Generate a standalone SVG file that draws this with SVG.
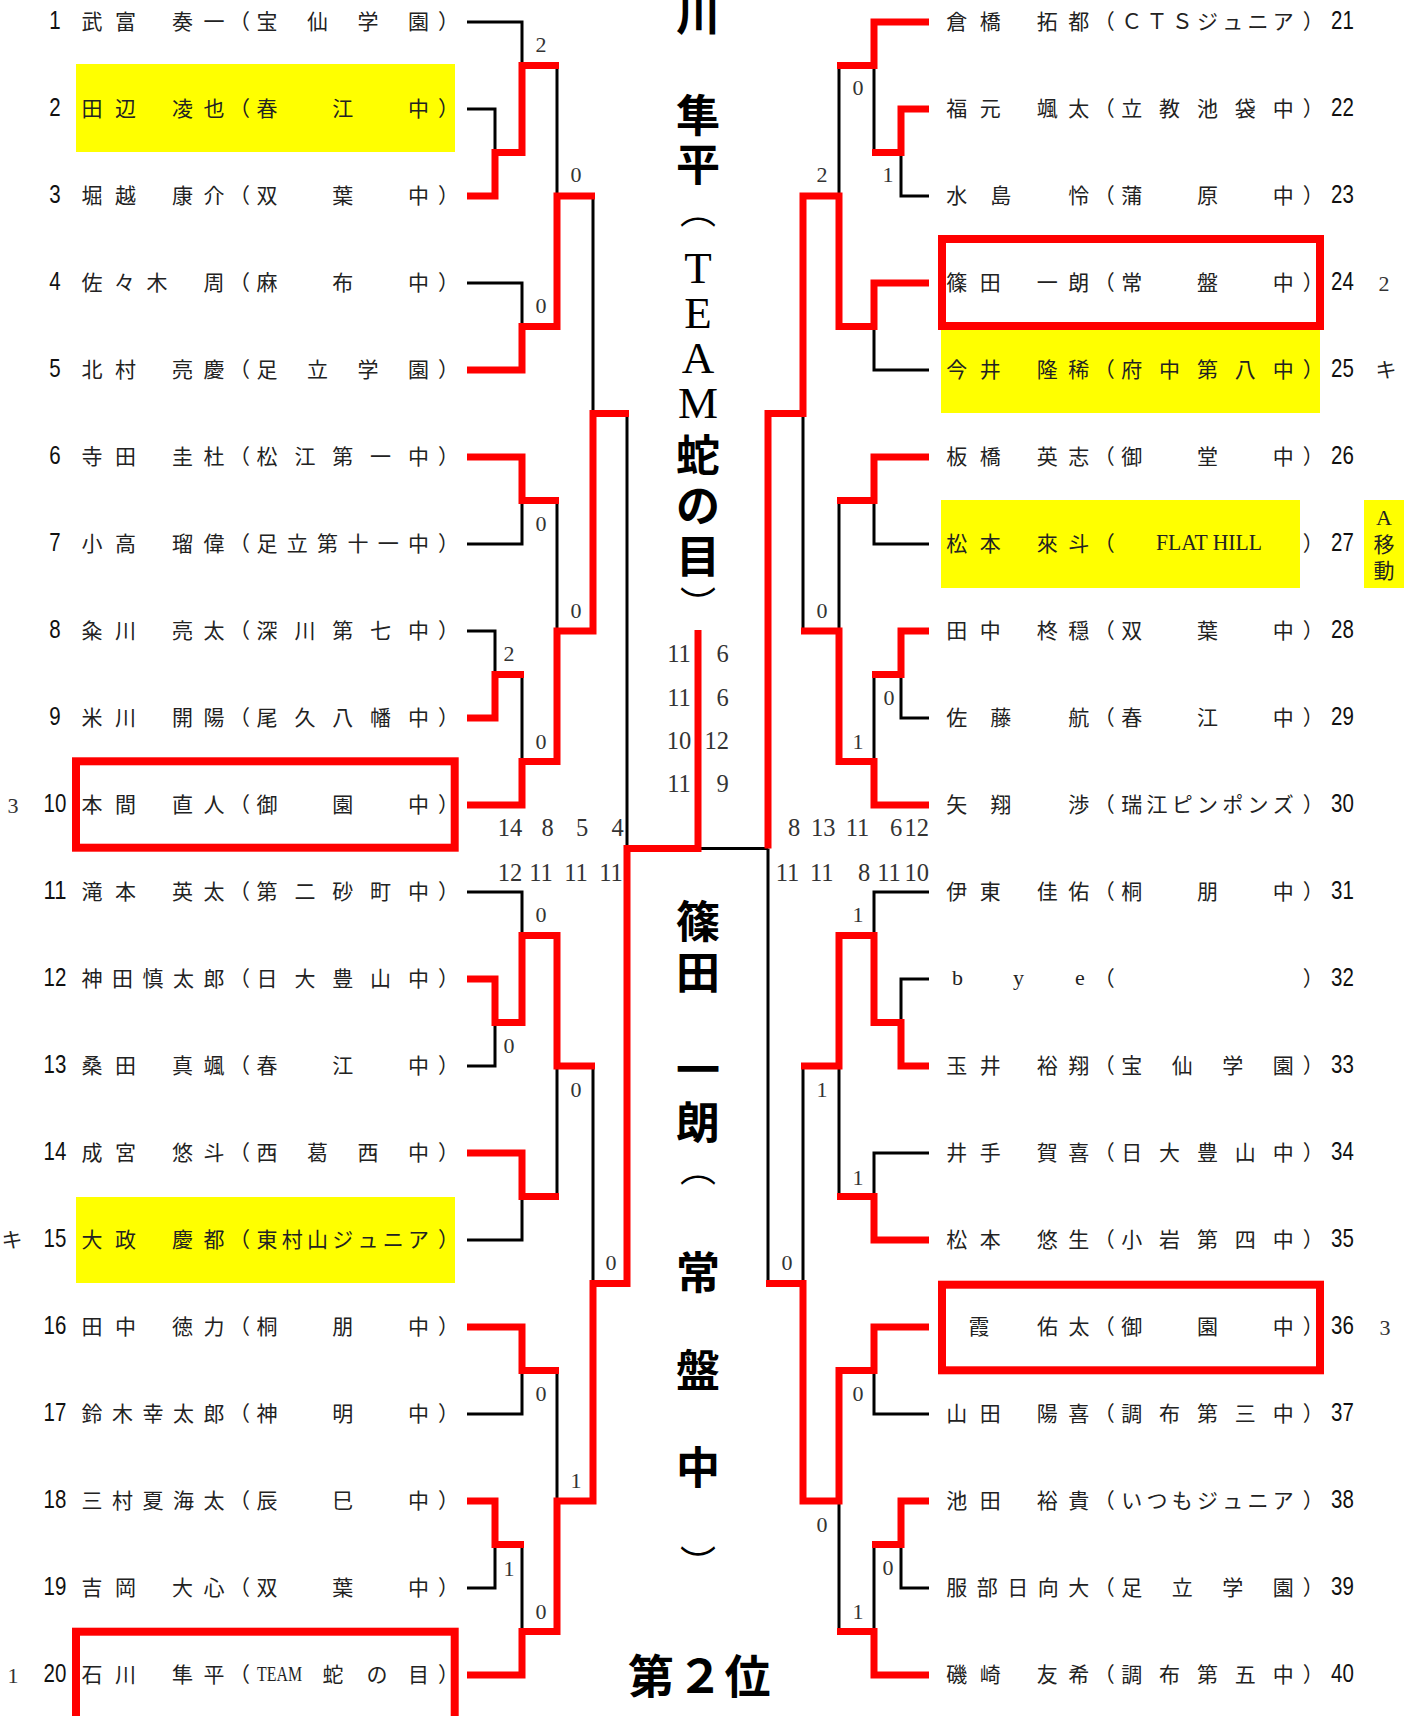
<svg xmlns="http://www.w3.org/2000/svg" width="1413" height="1716" viewBox="0 0 1413 1716">
<style>
.hl{fill:#ffff00}
.box{fill:none;stroke:#ff0000;stroke-width:8}
.bk{fill:none;stroke:#000;stroke-width:3;stroke-linejoin:miter}
.rd{fill:none;stroke:#ff0000;stroke-width:7;stroke-linejoin:miter;stroke-linecap:butt}
.nm{font-family:"Noto Sans CJK JP",sans-serif;font-size:21px;fill:#222;text-anchor:middle;dominant-baseline:central;transform:translateY(-2.5px)}
.no{font-family:"Liberation Sans Narrow","Liberation Sans",sans-serif;font-size:25px;fill:#111;text-anchor:middle;dominant-baseline:central;transform:translateY(-2.5px)}
.sc{font-family:"Liberation Serif",serif;font-size:22px;fill:#333;text-anchor:middle;dominant-baseline:central}
.gs{font-family:"Liberation Serif",serif;font-size:24.5px;fill:#333;text-anchor:middle;dominant-baseline:central}
.lat{font-family:"Liberation Serif",serif;font-size:22px;fill:#222;text-anchor:middle;dominant-baseline:central;transform:translateY(-2px)}
.big{font-family:"Noto Sans CJK JP",sans-serif;font-size:44px;font-weight:bold;fill:#000;text-anchor:middle;dominant-baseline:central;transform:translateY(-2px)}
.par{font-family:"Noto Sans CJK JP",sans-serif;font-size:36px;font-weight:normal;fill:#000;text-anchor:middle;dominant-baseline:central}
.bigl{font-family:"Liberation Serif",serif;font-size:45px;fill:#000;text-anchor:middle;dominant-baseline:central}
</style>
<rect width="1413" height="1716" fill="#fff"/>

<g id="highlights">
<rect class="hl" x="76" y="64" width="379" height="88"/>
<rect class="hl" x="76" y="1197" width="379" height="86"/>
<rect class="hl" x="941" y="330" width="379" height="83"/>
<rect class="hl" x="941" y="500" width="359" height="88"/>
<rect class="hl" x="1364" y="500" width="40" height="88"/>
</g>

<g id="connectors">
<path class="bk" d="M467,22 H522 V65.5 M467,109 H495 V152.5 M557,65.5 V196 M467,283 H522 V326.5 M593,196 V413.5 M467,544 H522 V500.5 M557,500.5 V631 M467,631 H495 V674.5 M522,674.5 V761.5 M627,413.5 V848.5 M467,892 H522 V935.5 M467,1066 H495 V1022.5 M467,1240 H522 V1196.5 M557,1066 V1196.5 M593,1066 V1283.5 M467,1414 H522 V1370.5 M557,1370.5 V1501 M467,1588 H495 V1544.5 M522,1544.5 V1631.5"/>
<path class="bk" d="M698,848.5 H768 M768,848.5 V1283.5"/>
<path class="bk" d="M929,196 H901 V152.5 M874,65.5 V152.5 M839,65.5 V196 M929,370 H874 V326.5 M803,413.5 V631 M929,544 H874 V500.5 M839,500.5 V631 M929,718 H901 V674.5 M874,674.5 V761.5 M929,892 H874 V935.5 M929,979 H901 V1022.5 M929,1153 H874 V1196.5 M839,1066 V1196.5 M803,1066 V1283.5 M929,1414 H874 V1370.5 M839,1501 V1631.5 M929,1588 H901 V1544.5 M874,1544.5 V1631.5"/>
<path class="rd" d="M467,196 H495 V152.5 H522 V65.5 H559"/>
<path class="rd" d="M467,370 H522 V326.5 H557 V196 H595"/>
<path class="rd" d="M467,457 H522 V500.5 H559"/>
<path class="rd" d="M467,718 H495 V674.5 H524"/>
<path class="rd" d="M467,805 H522 V761.5 H557 V631 H593 V413.5 H629"/>
<path class="rd" d="M467,979 H495 V1022.5 H522 V935.5 H557 V1066 H595"/>
<path class="rd" d="M467,1153 H522 V1196.5 H559"/>
<path class="rd" d="M467,1327 H522 V1370.5 H559"/>
<path class="rd" d="M467,1501 H495 V1544.5 H524"/>
<path class="rd" d="M467,1675 H522 V1631.5 H557 V1501 H593 V1283.5 H627 V848.5 H698 V630"/>
<path class="rd" d="M929,22 H874 V65.5 H837"/>
<path class="rd" d="M929,109 H901 V152.5 H872"/>
<path class="rd" d="M929,283 H874 V326.5 H839 V196 H803 V413.5 H768 V848.5"/>
<path class="rd" d="M929,457 H874 V500.5 H837"/>
<path class="rd" d="M929,631 H901 V674.5 H872"/>
<path class="rd" d="M929,805 H874 V761.5 H839 V631 H801"/>
<path class="rd" d="M929,1066 H901 V1022.5 H874 V935.5 H839 V1066 H801"/>
<path class="rd" d="M929,1240 H874 V1196.5 H837"/>
<path class="rd" d="M929,1327 H874 V1370.5 H839 V1501 H803 V1283.5 H766"/>
<path class="rd" d="M929,1501 H901 V1544.5 H872"/>
<path class="rd" d="M929,1675 H874 V1631.5 H837"/>
</g>

<g id="scores">
<text class="sc" x="541" y="44">2</text><text class="sc" x="576" y="174">0</text><text class="sc" x="541" y="305">0</text><text class="sc" x="541" y="523">0</text><text class="sc" x="576" y="610">0</text><text class="sc" x="509" y="653">2</text><text class="sc" x="541" y="741">0</text><text class="sc" x="541" y="914">0</text><text class="sc" x="509" y="1045">0</text><text class="sc" x="576" y="1089">0</text><text class="sc" x="611" y="1262">0</text><text class="sc" x="541" y="1393">0</text><text class="sc" x="576" y="1480">1</text><text class="sc" x="509" y="1568">1</text><text class="sc" x="541" y="1611">0</text>
<text class="sc" x="858" y="87">0</text><text class="sc" x="822" y="174">2</text><text class="sc" x="888" y="174">1</text><text class="sc" x="822" y="610">0</text><text class="sc" x="889" y="697">0</text><text class="sc" x="858" y="741">1</text><text class="sc" x="858" y="914">1</text><text class="sc" x="822" y="1089">1</text><text class="sc" x="858" y="1177">1</text><text class="sc" x="858" y="1393">0</text><text class="sc" x="822" y="1524">0</text><text class="sc" x="888" y="1567">0</text><text class="sc" x="858" y="1611">1</text><text class="sc" x="787" y="1262">0</text>
<text class="gs" x="510" y="827">14</text><text class="gs" x="547.5" y="827">8</text><text class="gs" x="582" y="827">5</text><text class="gs" x="617.5" y="827">4</text>
<text class="gs" x="510" y="872">12</text><text class="gs" x="541" y="872">11</text><text class="gs" x="576" y="872">11</text><text class="gs" x="611" y="872">11</text>
<text class="gs" x="794" y="827">8</text><text class="gs" x="823.3" y="827">13</text><text class="gs" x="857.5" y="827">11</text><text class="gs" x="896" y="827">6</text><text class="gs" x="916.7" y="827">12</text>
<text class="gs" x="787.5" y="872">11</text><text class="gs" x="821.7" y="872">11</text><text class="gs" x="864" y="872">8</text><text class="gs" x="889" y="872">11</text><text class="gs" x="916.7" y="872">10</text>
<text class="gs" x="679" y="653">11</text><text class="gs" x="722.5" y="653">6</text>
<text class="gs" x="679" y="697">11</text><text class="gs" x="722.5" y="697">6</text>
<text class="gs" x="679" y="740">10</text><text class="gs" x="716.7" y="740">12</text>
<text class="gs" x="679" y="783">11</text><text class="gs" x="722.5" y="783">9</text>
</g>

<g id="champion">
<text class="big" x="698" y="14">川</text>
<text class="big" x="698 698" y="115 164">隼平</text>
<text class="par" x="698" y="208">︵</text>
<text class="bigl" x="698 698 698 698" y="268 313 358 403">TEAM</text>
<text class="big" x="698 698 698" y="455 505 556">蛇の目</text>
<text class="par" x="698" y="602">︶</text>
</g>
<g id="runnerup">
<text class="big" x="698 698 698 698" y="921 972 1069 1122">篠田一朗</text>
<text class="par" x="698" y="1166">︵</text>
<text class="big" x="698 698 698" y="1272 1370 1467">常盤中</text>
<text class="par" x="698" y="1561">︶</text>
<text class="big" x="651 700 747.5" y="1675" style="font-size:46px">第２位</text>
</g>

<g id="p1"><text class="no" x="55" y="22" textLength="11.4" lengthAdjust="spacingAndGlyphs">1</text><text class="nm" x="92 125.5 182.5 214 239.5 267 317.5 368 418.5 448.5" y="22">武富奏一（宝仙学園）</text></g>
<g id="p2"><text class="no" x="55" y="109" textLength="11.4" lengthAdjust="spacingAndGlyphs">2</text><text class="nm" x="92 125.5 182.5 214 239.5 267 342.75 418.5 448.5" y="109">田辺凌也（春江中）</text></g>
<g id="p3"><text class="no" x="55" y="196" textLength="11.4" lengthAdjust="spacingAndGlyphs">3</text><text class="nm" x="92 125.5 182.5 214 239.5 267 342.75 418.5 448.5" y="196">堀越康介（双葉中）</text></g>
<g id="p4"><text class="no" x="55" y="283" textLength="11.4" lengthAdjust="spacingAndGlyphs">4</text><text class="nm" x="92 124.5 157 214 239.5 267 342.75 418.5 448.5" y="283">佐々木周（麻布中）</text></g>
<g id="p5"><text class="no" x="55" y="370" textLength="11.4" lengthAdjust="spacingAndGlyphs">5</text><text class="nm" x="92 125.5 182.5 214 239.5 267 317.5 368 418.5 448.5" y="370">北村亮慶（足立学園）</text></g>
<g id="p6"><text class="no" x="55" y="457" textLength="11.4" lengthAdjust="spacingAndGlyphs">6</text><text class="nm" x="92 125.5 182.5 214 239.5 267 304.9 342.75 380.6 418.5 448.5" y="457">寺田圭杜（松江第一中）</text></g>
<g id="p7"><text class="no" x="55" y="544" textLength="11.4" lengthAdjust="spacingAndGlyphs">7</text><text class="nm" x="92 125.5 182.5 214 239.5 267 297.3 327.6 357.9 388.2 418.5 448.5" y="544">小高瑠偉（足立第十一中）</text></g>
<g id="p8"><text class="no" x="55" y="631" textLength="11.4" lengthAdjust="spacingAndGlyphs">8</text><text class="nm" x="92 125.5 182.5 214 239.5 267 304.9 342.75 380.6 418.5 448.5" y="631">粂川亮太（深川第七中）</text></g>
<g id="p9"><text class="no" x="55" y="718" textLength="11.4" lengthAdjust="spacingAndGlyphs">9</text><text class="nm" x="92 125.5 182.5 214 239.5 267 304.9 342.75 380.6 418.5 448.5" y="718">米川開陽（尾久八幡中）</text></g>
<g id="p10"><text class="sc" x="13" y="805">3</text><text class="no" x="55" y="805" textLength="22.8" lengthAdjust="spacingAndGlyphs">10</text><text class="nm" x="92 125.5 182.5 214 239.5 267 342.75 418.5 448.5" y="805">本間直人（御園中）</text><rect class="box" x="76" y="761.3" width="378.7" height="86.4"/></g>
<g id="p11"><text class="no" x="55" y="892" textLength="22.8" lengthAdjust="spacingAndGlyphs">11</text><text class="nm" x="92 125.5 182.5 214 239.5 267 304.9 342.75 380.6 418.5 448.5" y="892">滝本英太（第二砂町中）</text></g>
<g id="p12"><text class="no" x="55" y="979" textLength="22.8" lengthAdjust="spacingAndGlyphs">12</text><text class="nm" x="92 122.5 153 183.5 214 239.5 267 304.9 342.75 380.6 418.5 448.5" y="979">神田慎太郎（日大豊山中）</text></g>
<g id="p13"><text class="no" x="55" y="1066" textLength="22.8" lengthAdjust="spacingAndGlyphs">13</text><text class="nm" x="92 125.5 182.5 214 239.5 267 342.75 418.5 448.5" y="1066">桑田真颯（春江中）</text></g>
<g id="p14"><text class="no" x="55" y="1153" textLength="22.8" lengthAdjust="spacingAndGlyphs">14</text><text class="nm" x="92 125.5 182.5 214 239.5 267 317.5 368 418.5 448.5" y="1153">成宮悠斗（西葛西中）</text></g>
<g id="p15"><text class="nm" x="12" y="1240">キ</text><text class="no" x="55" y="1240" textLength="22.8" lengthAdjust="spacingAndGlyphs">15</text><text class="nm" x="92 125.5 182.5 214 239.5 267 292.25 317.5 342.75 368 393.25 418.5 448.5" y="1240">大政慶都（東村山ジュニア）</text></g>
<g id="p16"><text class="no" x="55" y="1327" textLength="22.8" lengthAdjust="spacingAndGlyphs">16</text><text class="nm" x="92 125.5 182.5 214 239.5 267 342.75 418.5 448.5" y="1327">田中徳力（桐朋中）</text></g>
<g id="p17"><text class="no" x="55" y="1414" textLength="22.8" lengthAdjust="spacingAndGlyphs">17</text><text class="nm" x="92 122.5 153 183.5 214 239.5 267 342.75 418.5 448.5" y="1414">鈴木幸太郎（神明中）</text></g>
<g id="p18"><text class="no" x="55" y="1501" textLength="22.8" lengthAdjust="spacingAndGlyphs">18</text><text class="nm" x="92 122.5 153 183.5 214 239.5 267 342.75 418.5 448.5" y="1501">三村夏海太（辰巳中）</text></g>
<g id="p19"><text class="no" x="55" y="1588" textLength="22.8" lengthAdjust="spacingAndGlyphs">19</text><text class="nm" x="92 125.5 182.5 214 239.5 267 342.75 418.5 448.5" y="1588">吉岡大心（双葉中）</text></g>
<g id="p20"><text class="sc" x="13" y="1675">1</text><text class="no" x="55" y="1675" textLength="22.8" lengthAdjust="spacingAndGlyphs">20</text><text class="nm" x="92 125.5 182.5 214 239.5" y="1675">石川隼平（</text><text class="lat" x="279.5" y="1675" textLength="45" lengthAdjust="spacingAndGlyphs">TEAM</text><text class="nm" x="333 377 418.5 448.5" y="1675">蛇の目）</text><rect class="box" x="76" y="1631.7" width="378.7" height="100"/></g>

<g id="p21"><text class="nm" x="956.7 990.2 1047.2 1078.7 1104.2 1131.7 1156.95 1182.2 1207.45 1232.7 1257.95 1283.2 1313.2" y="22">倉橋拓都（ＣＴＳジュニア）</text><text class="no" x="1342.5" y="22" textLength="22.8" lengthAdjust="spacingAndGlyphs">21</text></g>
<g id="p22"><text class="nm" x="956.7 990.2 1047.2 1078.7 1104.2 1131.7 1169.6 1207.45 1245.3 1283.2 1313.2" y="109">福元颯太（立教池袋中）</text><text class="no" x="1342.5" y="109" textLength="22.8" lengthAdjust="spacingAndGlyphs">22</text></g>
<g id="p23"><text class="nm" x="956.7 1000.7 1078.7 1104.2 1131.7 1207.45 1283.2 1313.2" y="196">水島怜（蒲原中）</text><text class="no" x="1342.5" y="196" textLength="22.8" lengthAdjust="spacingAndGlyphs">23</text></g>
<g id="p24"><text class="nm" x="956.7 990.2 1047.2 1078.7 1104.2 1131.7 1207.45 1283.2 1313.2" y="283">篠田一朗（常盤中）</text><text class="no" x="1342.5" y="283" textLength="22.8" lengthAdjust="spacingAndGlyphs">24</text><text class="sc" x="1384" y="283">2</text><rect class="box" x="942" y="239" width="378" height="87"/></g>
<g id="p25"><text class="nm" x="956.7 990.2 1047.2 1078.7 1104.2 1131.7 1169.6 1207.45 1245.3 1283.2 1313.2" y="370">今井隆稀（府中第八中）</text><text class="no" x="1342.5" y="370" textLength="22.8" lengthAdjust="spacingAndGlyphs">25</text><text class="nm" x="1386" y="370">キ</text></g>
<g id="p26"><text class="nm" x="956.7 990.2 1047.2 1078.7 1104.2 1131.7 1207.45 1283.2 1313.2" y="457">板橋英志（御堂中）</text><text class="no" x="1342.5" y="457" textLength="22.8" lengthAdjust="spacingAndGlyphs">26</text></g>
<g id="p27"><text class="nm" x="956.7 990.2 1047.2 1078.7 1104.2" y="544">松本來斗（</text><text class="lat" x="1209" y="544" textLength="106" lengthAdjust="spacingAndGlyphs" style="font-size:23px">FLAT HILL</text><text class="nm" x="1313.2" y="544">）</text><text class="no" x="1342.5" y="544" textLength="22.8" lengthAdjust="spacingAndGlyphs">27</text></g>
<g id="note27"><text class="lat" x="1384" y="519">A</text><text class="nm" x="1384 1384" y="545 571">移動</text></g>
<g id="p28"><text class="nm" x="956.7 990.2 1047.2 1078.7 1104.2 1131.7 1207.45 1283.2 1313.2" y="631">田中柊穏（双葉中）</text><text class="no" x="1342.5" y="631" textLength="22.8" lengthAdjust="spacingAndGlyphs">28</text></g>
<g id="p29"><text class="nm" x="956.7 1000.7 1078.7 1104.2 1131.7 1207.45 1283.2 1313.2" y="718">佐藤航（春江中）</text><text class="no" x="1342.5" y="718" textLength="22.8" lengthAdjust="spacingAndGlyphs">29</text></g>
<g id="p30"><text class="nm" x="956.7 1000.7 1078.7 1104.2 1131.7 1156.95 1182.2 1207.45 1232.7 1257.95 1283.2 1313.2" y="805">矢翔渉（瑞江ピンポンズ）</text><text class="no" x="1342.5" y="805" textLength="22.8" lengthAdjust="spacingAndGlyphs">30</text></g>
<g id="p31"><text class="nm" x="956.7 990.2 1047.2 1078.7 1104.2 1131.7 1207.45 1283.2 1313.2" y="892">伊東佳佑（桐朋中）</text><text class="no" x="1342.5" y="892" textLength="22.8" lengthAdjust="spacingAndGlyphs">31</text></g>
<g id="p32"><text class="lat" x="957.5 1018.5 1080" y="979">bye</text><text class="nm" x="1104.2 1313.2" y="979">（）</text><text class="no" x="1342.5" y="979" textLength="22.8" lengthAdjust="spacingAndGlyphs">32</text></g>
<g id="p33"><text class="nm" x="956.7 990.2 1047.2 1078.7 1104.2 1131.7 1182.2 1232.7 1283.2 1313.2" y="1066">玉井裕翔（宝仙学園）</text><text class="no" x="1342.5" y="1066" textLength="22.8" lengthAdjust="spacingAndGlyphs">33</text></g>
<g id="p34"><text class="nm" x="956.7 990.2 1047.2 1078.7 1104.2 1131.7 1169.6 1207.45 1245.3 1283.2 1313.2" y="1153">井手賀喜（日大豊山中）</text><text class="no" x="1342.5" y="1153" textLength="22.8" lengthAdjust="spacingAndGlyphs">34</text></g>
<g id="p35"><text class="nm" x="956.7 990.2 1047.2 1078.7 1104.2 1131.7 1169.6 1207.45 1245.3 1283.2 1313.2" y="1240">松本悠生（小岩第四中）</text><text class="no" x="1342.5" y="1240" textLength="22.8" lengthAdjust="spacingAndGlyphs">35</text></g>
<g id="p36"><text class="nm" x="979 1047.5 1079 1104.2 1131.7 1207.45 1283.2 1313.2" y="1327">霞佑太（御園中）</text><text class="no" x="1342.5" y="1327" textLength="22.8" lengthAdjust="spacingAndGlyphs">36</text><text class="sc" x="1385" y="1327">3</text><rect class="box" x="942" y="1284.7" width="378" height="85.6"/></g>
<g id="p37"><text class="nm" x="956.7 990.2 1047.2 1078.7 1104.2 1131.7 1169.6 1207.45 1245.3 1283.2 1313.2" y="1414">山田陽喜（調布第三中）</text><text class="no" x="1342.5" y="1414" textLength="22.8" lengthAdjust="spacingAndGlyphs">37</text></g>
<g id="p38"><text class="nm" x="956.7 990.2 1047.2 1078.7 1104.2 1131.7 1156.95 1182.2 1207.45 1232.7 1257.95 1283.2 1313.2" y="1501">池田裕貴（いつもジュニア）</text><text class="no" x="1342.5" y="1501" textLength="22.8" lengthAdjust="spacingAndGlyphs">38</text></g>
<g id="p39"><text class="nm" x="956.7 987.2 1017.7 1048.2 1078.7 1104.2 1131.7 1182.2 1232.7 1283.2 1313.2" y="1588">服部日向大（足立学園）</text><text class="no" x="1342.5" y="1588" textLength="22.8" lengthAdjust="spacingAndGlyphs">39</text></g>
<g id="p40"><text class="nm" x="956.7 990.2 1047.2 1078.7 1104.2 1131.7 1169.6 1207.45 1245.3 1283.2 1313.2" y="1675">磯崎友希（調布第五中）</text><text class="no" x="1342.5" y="1675" textLength="22.8" lengthAdjust="spacingAndGlyphs">40</text></g>
</svg>
